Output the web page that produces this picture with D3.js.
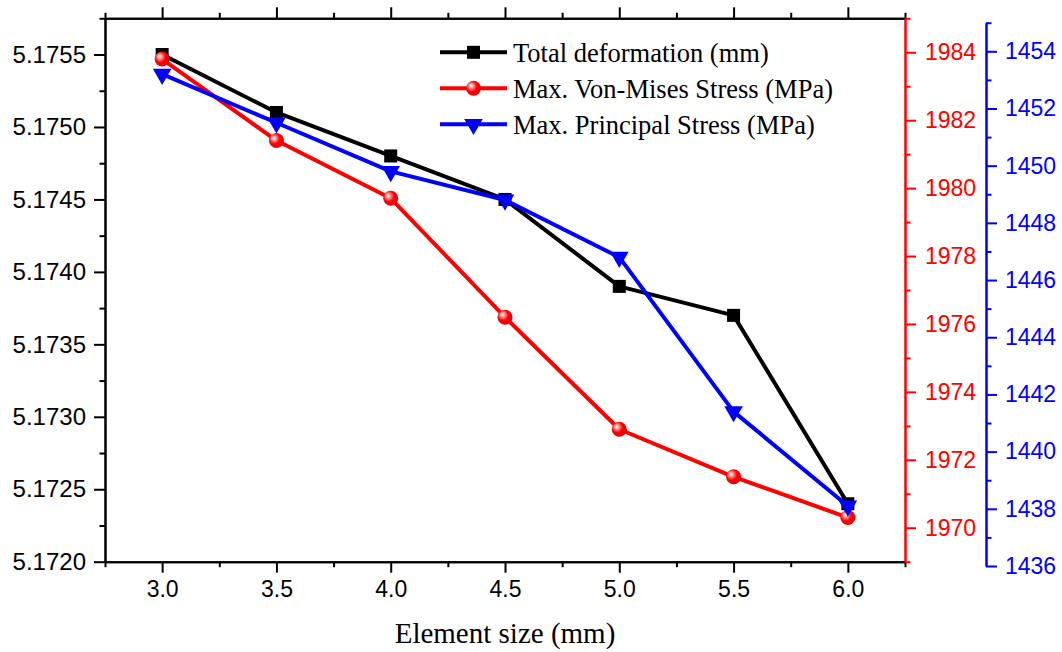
<!DOCTYPE html>
<html>
<head>
<meta charset="utf-8">
<script src="https://cdn.jsdelivr.net/npm/d3@7"></script>
<style>
  body { margin: 0; background: #fff; }
  .tick text { font-family: "Liberation Sans", Arial, sans-serif; }
</style>
</head>
<body>
<script>
// Data
var elementSize = [3.0, 3.5, 4.0, 4.5, 5.0, 5.5, 6.0];
var totalDeformation = [5.1755, 5.1751, 5.1748, 5.1745, 5.1739, 5.1737, 5.1724];
var vonMises = [1983.8, 1981.4, 1979.7, 1976.2, 1972.9, 1971.5, 1970.3];
var principal = [1453.2, 1451.5, 1449.8, 1448.8, 1446.8, 1441.4, 1438.1];

var seriesNames = ["Total deformation (mm)", "Max. Von-Mises Stress (MPa)", "Max. Principal Stress (MPa)"];

// Tick values
var xTicks = [3.0, 3.5, 4.0, 4.5, 5.0, 5.5, 6.0];
var xMinor = [2.75, 3.25, 3.75, 4.25, 4.75, 5.25, 5.75, 6.25];
var leftTicks = [5.1720, 5.1725, 5.1730, 5.1735, 5.1740, 5.1745, 5.1750, 5.1755];
var leftMinor = [5.17225, 5.17275, 5.17325, 5.17375, 5.17425, 5.17475, 5.17525, 5.17575];
var redTicks = [1970, 1972, 1974, 1976, 1978, 1980, 1982, 1984];
var redMinor = [1969, 1971, 1973, 1975, 1977, 1979, 1981, 1983, 1985];
var blueTicks = [1436, 1438, 1440, 1442, 1444, 1446, 1448, 1450, 1452, 1454];
var blueMinor = [1437, 1439, 1441, 1443, 1445, 1447, 1449, 1451, 1453, 1455];

var svgWidth = 1062;
var svgHeight = 652;

var plot = { left: 105, right: 905, top: 18.3, bottom: 561.7 };

var svg = d3.select("body")
  .append("svg")
  .attr("width", svgWidth)
  .attr("height", svgHeight);

// sphere look for red markers
var defs = svg.append("defs");
var grad = defs.append("radialGradient")
  .attr("id", "ball")
  .attr("cx", "40%").attr("cy", "40%").attr("r", "60%")
  .attr("fx", "32%").attr("fy", "32%");
grad.append("stop").attr("offset", "0%").attr("stop-color", "#ffffff");
grad.append("stop").attr("offset", "30%").attr("stop-color", "#ff8080");
grad.append("stop").attr("offset", "60%").attr("stop-color", "#ff0000");
grad.append("stop").attr("offset", "100%").attr("stop-color", "#e60000");

// Scales
var x = d3.scaleLinear().domain([2.75, 6.25]).range([plot.left, plot.right]);
var yLeft = d3.scaleLinear().domain([5.1720, 5.17575]).range([plot.bottom, plot.top]);
var yRed = d3.scaleLinear().domain([1969, 1985]).range([plot.bottom, plot.top]);
var yBlue = d3.scaleLinear().domain([1436, 1455]).range([566, 22.7]);

var majorLen = 11, minorLen = 5.5;

function styleAxis(g, color, size) {
  g.selectAll("path.domain").attr("stroke", color).attr("stroke-width", 2);
  g.selectAll(".tick line").attr("stroke", color).attr("stroke-width", 2);
  g.selectAll(".tick text").attr("fill", color).style("font-size", size + "px");
}

// Bottom axis
var bottomMajor = svg.append("g")
  .attr("transform", `translate(0, ${plot.bottom})`)
  .call(d3.axisBottom(x).tickValues(xTicks).tickSize(majorLen).tickSizeOuter(0)
    .tickPadding(8).tickFormat(d3.format(".1f")));
styleAxis(bottomMajor, "#000", 23);
bottomMajor.selectAll(".tick text")
  .style("font-family", "'Liberation Sans Narrow', 'Liberation Sans', Arial, sans-serif");
svg.append("g")
  .attr("transform", `translate(0, ${plot.bottom})`)
  .call(d3.axisBottom(x).tickValues(xMinor).tickSize(minorLen).tickSizeOuter(0).tickFormat(""))
  .call(g => styleAxis(g, "#000", 0));

// Top axis (ticks only)
svg.append("g")
  .attr("transform", `translate(0, ${plot.top})`)
  .call(d3.axisTop(x).tickValues(xTicks).tickSize(majorLen).tickSizeOuter(0).tickFormat(""))
  .call(g => styleAxis(g, "#000", 0));
svg.append("g")
  .attr("transform", `translate(0, ${plot.top})`)
  .call(d3.axisTop(x).tickValues(xMinor).tickSize(minorLen).tickSizeOuter(0).tickFormat(""))
  .call(g => styleAxis(g, "#000", 0));

// Left axis
svg.append("g")
  .attr("transform", `translate(${plot.left}, 0)`)
  .call(d3.axisLeft(yLeft).tickValues(leftTicks).tickSize(majorLen).tickSizeOuter(0)
    .tickPadding(8).tickFormat(d3.format(".4f")))
  .call(g => styleAxis(g, "#000", 24));
svg.append("g")
  .attr("transform", `translate(${plot.left}, 0)`)
  .call(d3.axisLeft(yLeft).tickValues(leftMinor).tickSize(minorLen).tickSizeOuter(0).tickFormat(""))
  .call(g => styleAxis(g, "#000", 0));

// Right red axis
svg.append("g")
  .attr("transform", `translate(${plot.right}, 0)`)
  .call(d3.axisRight(yRed).tickValues(redTicks).tickSize(majorLen).tickSizeOuter(0)
    .tickPadding(9).tickFormat(d3.format("d")))
  .call(g => styleAxis(g, "#ff0000", 23));
svg.append("g")
  .attr("transform", `translate(${plot.right}, 0)`)
  .call(d3.axisRight(yRed).tickValues(redMinor).tickSize(minorLen).tickSizeOuter(0).tickFormat(""))
  .call(g => styleAxis(g, "#ff0000", 0));

// Offset blue axis
svg.append("g")
  .attr("transform", "translate(986, 0)")
  .call(d3.axisRight(yBlue).tickValues(blueTicks).tickSize(majorLen).tickSizeOuter(0)
    .tickPadding(8).tickFormat(d3.format("d")))
  .call(g => styleAxis(g, "#0000ff", 23));
svg.append("g")
  .attr("transform", "translate(986, 0)")
  .call(d3.axisRight(yBlue).tickValues(blueMinor).tickSize(minorLen).tickSizeOuter(0).tickFormat(""))
  .call(g => styleAxis(g, "#0000ff", 0));

// X axis title
svg.append("text")
  .attr("x", (plot.left + plot.right) / 2)
  .attr("y", 643)
  .attr("text-anchor", "middle")
  .style("font-family", "'Liberation Serif', 'Times New Roman', serif")
  .style("font-size", "29px")
  .text("Element size (mm)");

// Markers
var triangle = d3.symbol().type(d3.symbolTriangle).size(150);

function drawSquare(g, cx, cy) {
  g.append("rect").attr("x", cx - 6.5).attr("y", cy - 6.5)
    .attr("width", 13).attr("height", 13).attr("fill", "#000");
}
function drawBall(g, cx, cy) {
  g.append("circle").attr("cx", cx).attr("cy", cy).attr("r", 7.5)
    .attr("fill", "url(#ball)");
}
function drawTriangle(g, cx, cy) {
  g.append("path").attr("d", triangle())
    .attr("transform", `translate(${cx}, ${cy}) rotate(180)`)
    .attr("fill", "#0000ff");
}

var series = [
  { values: totalDeformation, scale: yLeft, color: "#000000", marker: drawSquare },
  { values: vonMises, scale: yRed, color: "#ff0000", marker: drawBall },
  { values: principal, scale: yBlue, color: "#0000ff", marker: drawTriangle }
];

series.forEach(function(s) {
  var line = d3.line()
    .x((d, i) => x(elementSize[i]))
    .y(d => s.scale(d));
  var g = svg.append("g");
  g.append("path")
    .attr("d", line(s.values))
    .attr("fill", "none")
    .attr("stroke", s.color)
    .attr("stroke-width", 4)
    .attr("stroke-linejoin", "round");
  s.values.forEach(function(v, i) {
    s.marker(g, x(elementSize[i]), s.scale(v));
  });
});

// Legend
var legend = svg.append("g");
series.forEach(function(s, i) {
  var ly = 52.3 + i * 36;
  legend.append("line")
    .attr("x1", 440).attr("x2", 507).attr("y1", ly).attr("y2", ly)
    .attr("stroke", s.color).attr("stroke-width", 4);
  s.marker(legend, 473.5, ly);
  legend.append("text")
    .attr("x", 513).attr("y", ly).attr("dy", "0.35em")
    .style("font-family", "'Liberation Serif', 'Times New Roman', serif")
    .style("font-size", "26.5px")
    .text(seriesNames[i]);
});
</script>
</body>
</html>
